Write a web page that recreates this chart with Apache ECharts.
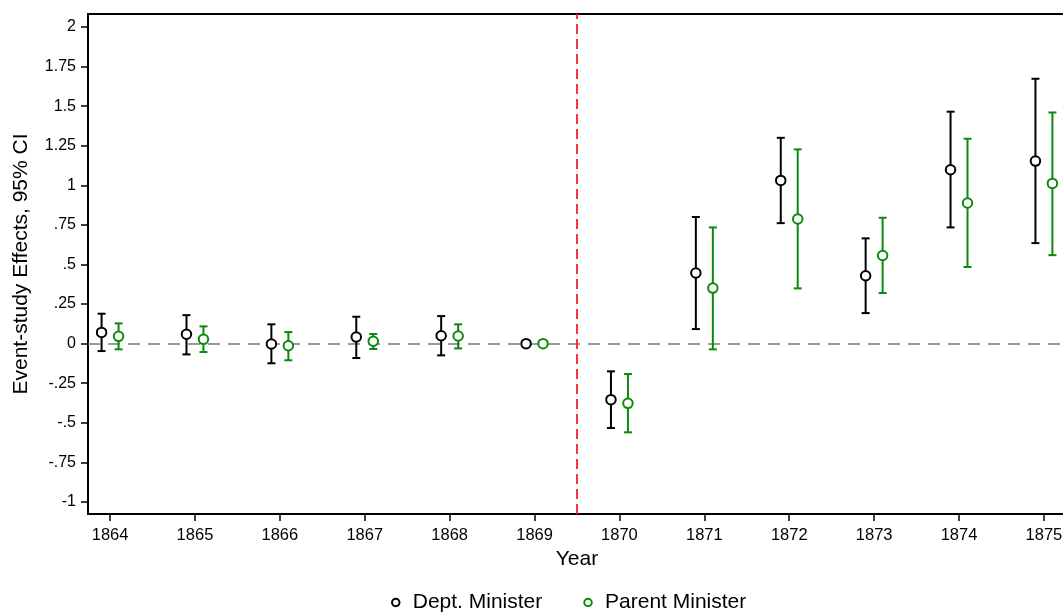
<!DOCTYPE html>
<html>
<head>
<meta charset="utf-8">
<script src="https://cdn.jsdelivr.net/npm/echarts@6/dist/echarts.min.js"></script>
<style>
  html, body { margin: 0; padding: 0; background: #fff; }
  #chart { width: 1063px; height: 613px; }
</style>
</head>
<body>
<div id="chart"></div>
<script>
// Event years
const years = [1864, 1865, 1866, 1867, 1868, 1869, 1870, 1871, 1872, 1873, 1874, 1875];

// Department minister: point estimates and 95% CI bounds (1869 is the reference year)
const deptEst = [0.071, 0.059, -0.002, 0.042, 0.050, 0, -0.354, 0.446, 1.031, 0.429, 1.098, 1.153];
const deptLo  = [-0.047, -0.068, -0.124, -0.091, -0.074, null, -0.533, 0.092, 0.761, 0.193, 0.734, 0.635];
const deptHi  = [0.189, 0.180, 0.122, 0.170, 0.174, null, -0.175, 0.800, 1.300, 0.665, 1.465, 1.673];

// Parent minister: point estimates and 95% CI bounds
const parEst = [0.046, 0.027, -0.013, 0.015, 0.048, 0, -0.377, 0.351, 0.787, 0.557, 0.888, 1.012];
const parLo  = [-0.036, -0.053, -0.105, -0.034, -0.030, null, -0.560, -0.036, 0.349, 0.320, 0.484, 0.559];
const parHi  = [0.128, 0.109, 0.073, 0.061, 0.122, null, -0.192, 0.734, 1.227, 0.795, 1.294, 1.460];

// Axis ticks
const yTicks = [-1, -0.75, -0.5, -0.25, 0, 0.25, 0.5, 0.75, 1, 1.25, 1.5, 1.75, 2];
const eventLine = 1869.5;

const seriesNames = ['Dept. Minister', 'Parent Minister'];
const BLACK = '#000000';
const GREEN = '#0a8a0a';
const FONT = '"Liberation Sans", Arial, Helvetica, sans-serif';
const SHIFT = 0.1; // horizontal dodge between the two estimates

function fmtTick(v) {
  const s = String(v);
  return s.replace(/^(-?)0\./, '$1.');
}

function ciData(lo, hi, dx) {
  const out = [];
  years.forEach((y, i) => {
    if (lo[i] != null && hi[i] != null) out.push([y + dx, lo[i], hi[i]]);
  });
  return out;
}

function ciSeries(lo, hi, dx, color) {
  return {
    type: 'custom',
    data: ciData(lo, hi, dx),
    encode: { x: 0, y: [1, 2] },
    z: 3,
    silent: true,
    renderItem: function (params, api) {
      const x = api.value(0);
      const pLo = api.coord([x, api.value(1)]);
      const pHi = api.coord([x, api.value(2)]);
      const cap = 4;
      const style = { stroke: color, lineWidth: 2, fill: null };
      return {
        type: 'group',
        children: [
          { type: 'line', shape: { x1: pLo[0], y1: pLo[1], x2: pHi[0], y2: pHi[1] }, style: style },
          { type: 'line', shape: { x1: pLo[0] - cap, y1: pLo[1], x2: pLo[0] + cap, y2: pLo[1] }, style: style },
          { type: 'line', shape: { x1: pHi[0] - cap, y1: pHi[1], x2: pHi[0] + cap, y2: pHi[1] }, style: style }
        ]
      };
    }
  };
}

function pointSeries(name, est, dx, color) {
  return {
    name: name,
    type: 'scatter',
    data: years.map((y, i) => [y + dx, est[i]]),
    symbol: 'circle',
    symbolSize: 9.5,
    z: 5,
    itemStyle: { color: '#ffffff', borderColor: color, borderWidth: 2, opacity: 1 },
    emphasis: { disabled: true }
  };
}

const chart = echarts.init(document.getElementById('chart'), null, { renderer: 'canvas' });

chart.setOption({
  animation: false,
  backgroundColor: '#ffffff',
  grid: {
    left: 88, top: 14, bottom: 99, right: -3,
    outerBoundsMode: 'none',
    containLabel: false,
    show: true, borderColor: BLACK, borderWidth: 2, backgroundColor: 'transparent'
  },
  legend: {
    data: seriesNames,
    left: 386, top: 587,
    itemWidth: 24, itemHeight: 7.5, itemGap: 41,
    icon: 'circle',
    textStyle: { fontFamily: FONT, fontSize: 21, color: BLACK },
    selectedMode: false
  },
  xAxis: {
    type: 'value',
    min: 1863.74, max: 1875.26,
    name: 'Year', nameLocation: 'middle', nameGap: 31,
    nameTextStyle: { fontFamily: FONT, fontSize: 21, color: BLACK },
    axisLine: { show: true, onZero: false, lineStyle: { color: BLACK, width: 2 } },
    axisTick: { show: true, length: 7, lineStyle: { color: BLACK, width: 1.5 }, customValues: years },
    axisLabel: { customValues: years, margin: 13, fontFamily: FONT, fontSize: 16.5, color: BLACK, formatter: v => String(v), hideOverlap: false },
    splitLine: { show: false }
  },
  yAxis: {
    type: 'value',
    min: -1.076, max: 2.082,
    name: 'Event-study Effects, 95% CI', nameLocation: 'middle', nameGap: 56,
    nameTextStyle: { fontFamily: FONT, fontSize: 21, color: BLACK },
    axisLine: { show: true, onZero: false, lineStyle: { color: BLACK, width: 2 } },
    axisTick: { show: true, length: 7, lineStyle: { color: BLACK, width: 1.5 }, customValues: yTicks },
    axisLabel: { customValues: yTicks, margin: 12, fontFamily: FONT, fontSize: 16, color: BLACK, formatter: fmtTick },
    splitLine: { show: false }
  },
  series: [
    ciSeries(deptLo, deptHi, -SHIFT, BLACK),
    ciSeries(parLo, parHi, SHIFT, GREEN),
    Object.assign(pointSeries(seriesNames[0], deptEst, -SHIFT, BLACK), {
      markLine: {
        silent: true, symbol: 'none', label: { show: false }, z: 1,
        data: [
          { yAxis: 0, lineStyle: { color: '#7a7a7a', width: 1.5, type: [12, 8] } },
          { xAxis: eventLine, lineStyle: { color: '#ff2020', width: 1.8, type: [10, 5] } }
        ]
      }
    }),
    pointSeries(seriesNames[1], parEst, SHIFT, GREEN)
  ]
});
</script>
</body>
</html>
